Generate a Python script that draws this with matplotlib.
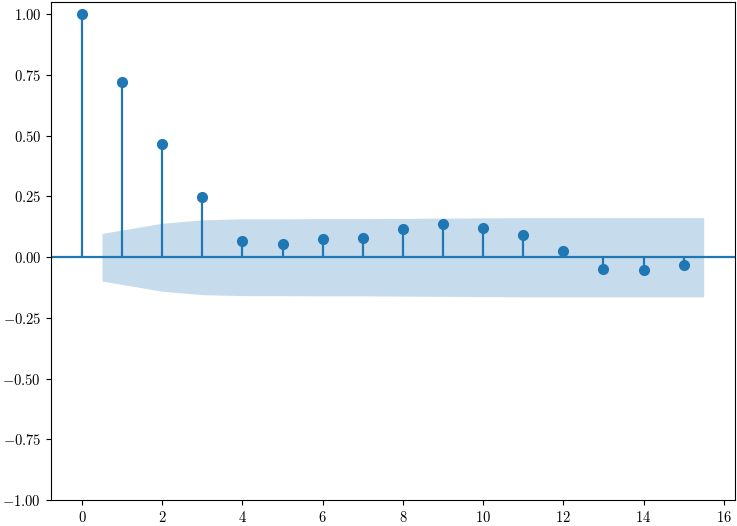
import matplotlib
matplotlib.use("Agg")
import matplotlib.pyplot as plt
from matplotlib.ticker import FuncFormatter

lags = [0, 1, 2, 3, 4, 5, 6, 7, 8, 9, 10, 11, 12, 13, 14, 15]
acf_values = [1.0, 0.72, 0.465, 0.248, 0.067, 0.054, 0.075, 0.08, 0.115, 0.135,
              0.12, 0.092, 0.027, -0.048, -0.052, -0.033]
band_x = [0.5, 2, 3, 4, 5, 6, 7, 8, 9, 10, 11, 12, 13, 14, 15.5]
band_half = [0.098, 0.140, 0.154, 0.158, 0.158, 0.159, 0.159, 0.160, 0.161, 0.162,
             0.163, 0.163, 0.163, 0.163, 0.163]

plt.rcParams['mathtext.fontset'] = 'cm'
plt.rcParams['font.family'] = 'serif'
plt.rcParams['font.serif'] = ['DejaVu Serif']

fig, ax = plt.subplots(figsize=(7.37, 5.26), dpi=100)
color = '#1f77b4'
ax.vlines(lags, [0], acf_values, color=color, lw=1.6)
ax.axhline(0, color=color, lw=1.6)
ax.plot(lags, acf_values, 'o', color=color, markersize=7)
ax.fill_between(band_x, [-h for h in band_half], band_half, alpha=0.25, color=color, lw=0)
ax.set_xlim(-0.775, 16.275)
ax.set_ylim(-1.0, 1.05)
ax.set_xticks([0, 2, 4, 6, 8, 10, 12, 14, 16])
ax.set_yticks([-1.0, -0.75, -0.5, -0.25, 0.0, 0.25, 0.5, 0.75, 1.0])
ax.xaxis.set_major_formatter(FuncFormatter(lambda v, p: r'$%d$' % v))
ax.yaxis.set_major_formatter(FuncFormatter(lambda v, p: r'$%.2f$' % v))
ax.tick_params(labelsize=10.5)
fig.subplots_adjust(left=0.069, right=0.997, top=0.996, bottom=0.049)
fig.savefig('out.png')
